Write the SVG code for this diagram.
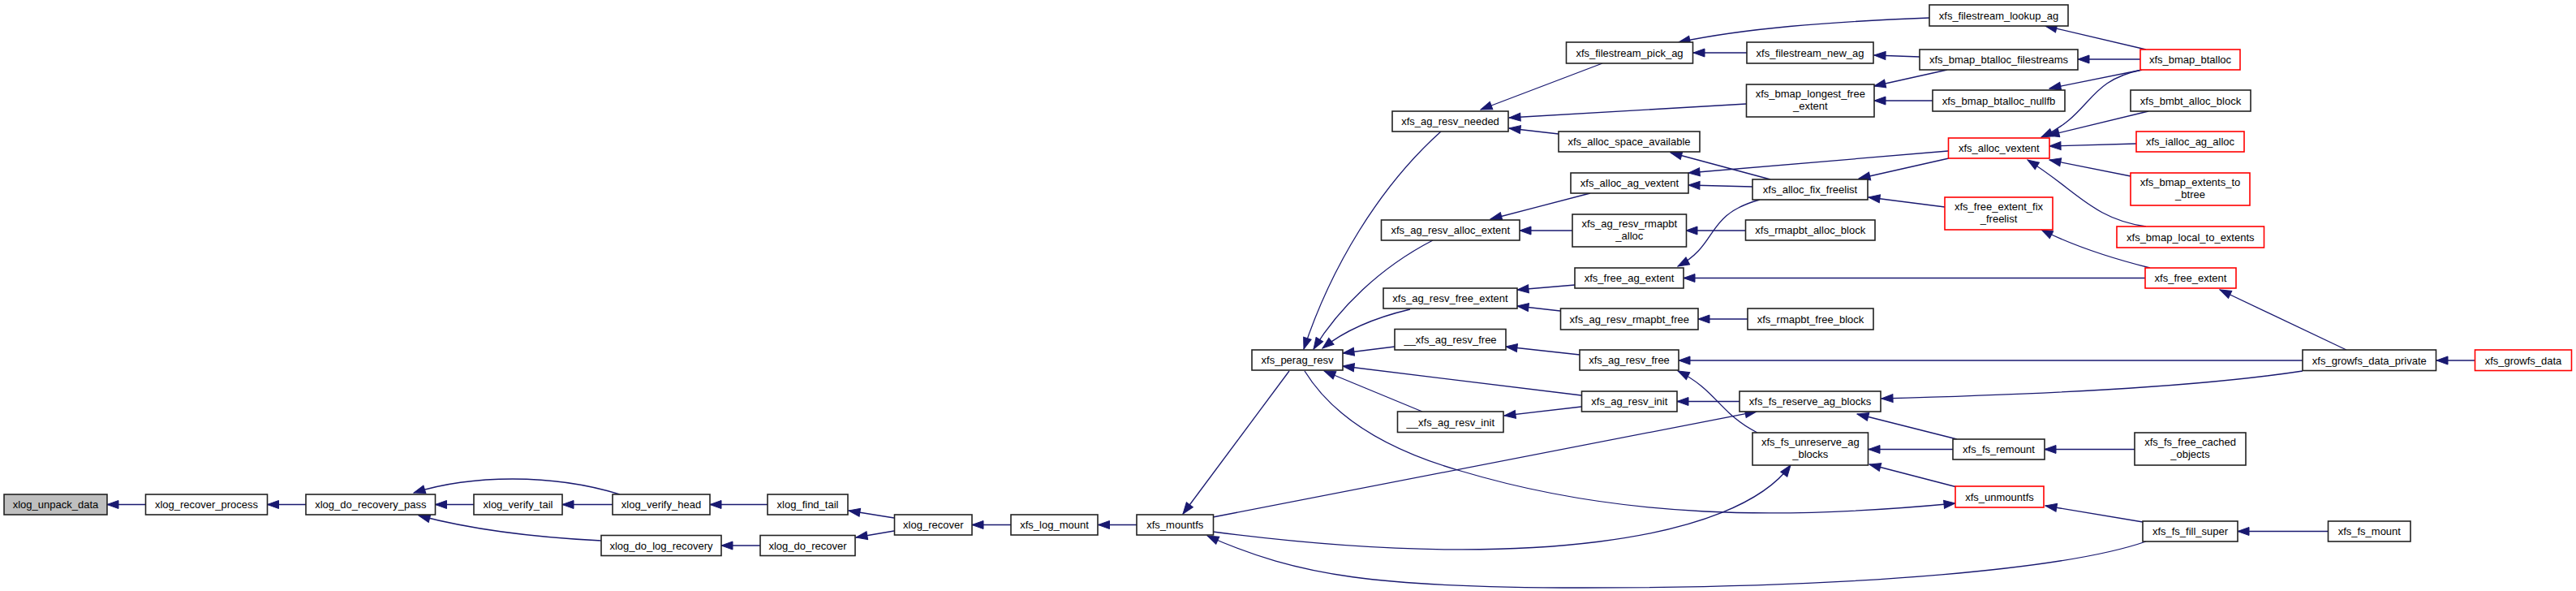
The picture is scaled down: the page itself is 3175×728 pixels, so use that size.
<svg xmlns="http://www.w3.org/2000/svg" width="3175" height="728" viewBox="0 0 3175 728">
<style>
.n rect{fill:#fff;stroke:#222;stroke-width:1.6}
.r rect{fill:#fff;stroke:#ff0000;stroke-width:1.6}
.g rect{fill:#bfbfbf;stroke:#222;stroke-width:1.6}
text{font-family:"Liberation Sans",Arial,Helvetica,sans-serif;font-size:13px;fill:#000;text-anchor:middle}
#edges path{fill:none;stroke:#191970;stroke-width:1.3;marker-start:url(#ah)}
</style>
<defs>
<marker id="ah" markerUnits="userSpaceOnUse" markerWidth="16" markerHeight="12" viewBox="-15 -6 16 12" refX="0" refY="0" orient="auto-start-reverse">
<path d="M0,0 L-14,-5 L-14,5 z" fill="#191970" stroke="#191970" stroke-width="1"/>
</marker>
</defs>
<rect width="3175" height="728" fill="#fff"/>
<g id="edges">
<path d="M132,621.5 L179.5,621.5"/>
<path d="M329.5,621.5 L377,621.5"/>
<path d="M536.5,621.5 L584,621.5"/>
<path d="M693,621.5 L755,621.5"/>
<path d="M510,607 C580,585 680,583 764,609"/>
<path d="M516,635 C580,652 660,662 741,666"/>
<path d="M875,621.5 L946,621.5"/>
<path d="M889,672 L937,672"/>
<path d="M1046,629 L1102,638"/>
<path d="M1055,662 L1102,654"/>
<path d="M1198,646.5 L1246,646.5"/>
<path d="M1353.5,646.5 L1401,646.5"/>
<path d="M1458,633 L1589,457"/>
<path d="M2165,507 L1495,637"/>
<path d="M2207,573 C2140,665 1880,705 1495,655"/>
<path d="M1488,660 C1600,710 1700,724 1950,724 C2300,724 2550,700 2645,667"/>
<path d="M2410,620 C2200,640 2000,640 1800,580 C1730,560 1650,525 1608,457"/>
<path d="M1607,430 C1640,330 1700,230 1776,162"/>
<path d="M1619,430 C1650,380 1700,330 1766,296"/>
<path d="M1630,429 C1660,405 1700,390 1738,381"/>
<path d="M1655,435 L1719,427"/>
<path d="M1655,451 L1949,487"/>
<path d="M1632,457 L1753,507"/>
<path d="M1856,427 L1947,437"/>
<path d="M1854,512 L1949,501"/>
<path d="M2067,494.5 L2144,494.5"/>
<path d="M2068,457 C2115,480 2120,510 2166,533"/>
<path d="M1870,377 L1923,383"/>
<path d="M2093,393 L2154,393"/>
<path d="M1870,357 L1941,351"/>
<path d="M1825,135 L1975,78"/>
<path d="M1860,145 L2152,128"/>
<path d="M1860,158 L1921,165"/>
<path d="M2087,65 L2153,65"/>
<path d="M2069,52 C2150,35 2250,27 2378,22"/>
<path d="M2310,68 L2366,70"/>
<path d="M2310,106 L2400,86"/>
<path d="M2310,124 L2382,124"/>
<path d="M2521,32 L2645,61"/>
<path d="M2561,73 L2638,73"/>
<path d="M2526,109 L2640,86"/>
<path d="M2516,169 C2580,140 2570,100 2640,86"/>
<path d="M2524,167 L2648,137"/>
<path d="M2526,180 L2633,177"/>
<path d="M2526,197 L2626,217"/>
<path d="M2499,197 C2560,235 2580,270 2645,279"/>
<path d="M2516,283 C2560,305 2610,320 2650,330"/>
<path d="M2081,228 L2160,230"/>
<path d="M2081,213 L2401,186"/>
<path d="M2291,220 L2402,195"/>
<path d="M2303,243 L2397,255"/>
<path d="M2059,188 L2182,221"/>
<path d="M2068,328 C2120,300 2100,265 2169,246"/>
<path d="M1837,270 L1960,238"/>
<path d="M1873,284 L1938,284"/>
<path d="M2078,284 L2151,284"/>
<path d="M2075,342.5 L2644,342.5"/>
<path d="M2289,510 L2412,541"/>
<path d="M2303,553.5 L2407,553.5"/>
<path d="M2304,572 L2412,600"/>
<path d="M2319,491 C2500,486 2700,478 2838,457"/>
<path d="M2069,444 L2838,444"/>
<path d="M2736,357 L2892,431"/>
<path d="M3003,444 L3050,444"/>
<path d="M2520,553.5 L2631,553.5"/>
<path d="M2521,623 L2641,643"/>
<path d="M2758,654.5 L2870,654.5"/>
</g>
<g id="n1" class="g"><rect x="5" y="609" width="127" height="25"/><text x="68.5" y="626">xlog_unpack_data</text></g>
<g id="n2" class="n"><rect x="179.5" y="609" width="150" height="25"/><text x="254.5" y="626">xlog_recover_process</text></g>
<g id="n3" class="n"><rect x="377" y="609" width="159.5" height="25"/><text x="456.8" y="626">xlog_do_recovery_pass</text></g>
<g id="n4" class="n"><rect x="584" y="609" width="109" height="25"/><text x="638.5" y="626">xlog_verify_tail</text></g>
<g id="n5" class="n"><rect x="755" y="609" width="120" height="25"/><text x="815" y="626">xlog_verify_head</text></g>
<g id="n6" class="n"><rect x="741" y="659.5" width="148" height="25"/><text x="815" y="676.5">xlog_do_log_recovery</text></g>
<g id="n7" class="n"><rect x="946" y="609" width="99" height="25"/><text x="995.5" y="626">xlog_find_tail</text></g>
<g id="n8" class="n"><rect x="937" y="659.5" width="117" height="25"/><text x="995.5" y="676.5">xlog_do_recover</text></g>
<g id="n9" class="n"><rect x="1102.5" y="634" width="95.5" height="25"/><text x="1150.3" y="651">xlog_recover</text></g>
<g id="n10" class="n"><rect x="1246" y="634" width="107" height="25"/><text x="1299.5" y="651">xfs_log_mount</text></g>
<g id="n11" class="n"><rect x="1401" y="634" width="94.5" height="25"/><text x="1448.3" y="651">xfs_mountfs</text></g>
<g id="n12" class="n"><rect x="1543" y="431" width="112" height="25"/><text x="1599" y="448">xfs_perag_resv</text></g>
<g id="n13" class="n"><rect x="1716" y="137" width="143" height="25"/><text x="1787.5" y="154">xfs_ag_resv_needed</text></g>
<g id="n14" class="n"><rect x="1930.5" y="52" width="156" height="26"/><text x="2008.5" y="69.5">xfs_filestream_pick_ag</text></g>
<g id="n15" class="n"><rect x="2153" y="52" width="156" height="26"/><text x="2231" y="69.5">xfs_filestream_new_ag</text></g>
<g id="n16" class="n"><rect x="2378" y="6" width="171" height="26"/><text x="2463.5" y="23.5">xfs_filestream_lookup_ag</text></g>
<g id="n17" class="n"><rect x="2366" y="61" width="195" height="25"/><text x="2463.5" y="78">xfs_bmap_btalloc_filestreams</text></g>
<g id="n18" class="n"><rect x="2152.5" y="104" width="157.5" height="40"/><text x="2231.3" y="120">xfs_bmap_longest_free</text><text x="2231.3" y="134.5">_extent</text></g>
<g id="n19" class="n"><rect x="2382" y="111" width="163" height="26"/><text x="2463.5" y="128.5">xfs_bmap_btalloc_nullfb</text></g>
<g id="n20" class="n"><rect x="1921" y="162" width="174" height="25"/><text x="2008" y="179">xfs_alloc_space_available</text></g>
<g id="n21" class="n"><rect x="1936" y="213" width="145" height="25"/><text x="2008.5" y="230">xfs_alloc_ag_vextent</text></g>
<g id="n22" class="n"><rect x="2160" y="221" width="142" height="25"/><text x="2231" y="238">xfs_alloc_fix_freelist</text></g>
<g id="n23" class="n"><rect x="1702.5" y="271" width="170.5" height="25"/><text x="1787.8" y="288">xfs_ag_resv_alloc_extent</text></g>
<g id="n24" class="n"><rect x="1938" y="264" width="140.5" height="40"/><text x="2008.3" y="280">xfs_ag_resv_rmapbt</text><text x="2008.3" y="294.5">_alloc</text></g>
<g id="n25" class="n"><rect x="2151.5" y="271" width="159.5" height="25"/><text x="2231.3" y="288">xfs_rmapbt_alloc_block</text></g>
<g id="n26" class="n"><rect x="1941" y="330" width="134" height="25"/><text x="2008" y="347">xfs_free_ag_extent</text></g>
<g id="n27" class="n"><rect x="1705" y="355" width="165" height="25"/><text x="1787.5" y="372">xfs_ag_resv_free_extent</text></g>
<g id="n28" class="r"><rect x="2397" y="243" width="133" height="40"/><text x="2463.5" y="259">xfs_free_extent_fix</text><text x="2463.5" y="273.5">_freelist</text></g>
<g id="n29" class="r"><rect x="2401.5" y="170" width="124.5" height="25"/><text x="2463.8" y="187">xfs_alloc_vextent</text></g>
<g id="n30" class="r"><rect x="2638" y="61" width="123" height="25"/><text x="2699.5" y="78">xfs_bmap_btalloc</text></g>
<g id="n31" class="n"><rect x="2626" y="111" width="148" height="26"/><text x="2700" y="128.5">xfs_bmbt_alloc_block</text></g>
<g id="n32" class="r"><rect x="2633" y="162" width="133" height="25"/><text x="2699.5" y="179">xfs_ialloc_ag_alloc</text></g>
<g id="n33" class="r"><rect x="2626" y="213" width="147" height="40"/><text x="2699.5" y="229">xfs_bmap_extents_to</text><text x="2699.5" y="243.5">_btree</text></g>
<g id="n34" class="r"><rect x="2609" y="279" width="181.5" height="26"/><text x="2699.8" y="296.5">xfs_bmap_local_to_extents</text></g>
<g id="n35" class="r"><rect x="2644" y="330" width="112" height="25"/><text x="2700" y="347">xfs_free_extent</text></g>
<g id="n36" class="n"><rect x="1923.5" y="380" width="169.5" height="26"/><text x="2008.3" y="397.5">xfs_ag_resv_rmapbt_free</text></g>
<g id="n37" class="n"><rect x="2154" y="380" width="155" height="26"/><text x="2231.5" y="397.5">xfs_rmapbt_free_block</text></g>
<g id="n38" class="n"><rect x="1719" y="405.5" width="137" height="25.5"/><text x="1787.5" y="423">__xfs_ag_resv_free</text></g>
<g id="n39" class="n"><rect x="1947" y="431" width="122" height="25"/><text x="2008" y="448">xfs_ag_resv_free</text></g>
<g id="n40" class="n"><rect x="1949.5" y="482" width="117.5" height="25"/><text x="2008.3" y="499">xfs_ag_resv_init</text></g>
<g id="n41" class="n"><rect x="1722.5" y="507" width="130.5" height="25.5"/><text x="1787.8" y="524.5">__xfs_ag_resv_init</text></g>
<g id="n42" class="n"><rect x="2144" y="482" width="174" height="25"/><text x="2231" y="499">xfs_fs_reserve_ag_blocks</text></g>
<g id="n43" class="n"><rect x="2160" y="533" width="142.5" height="40"/><text x="2231.3" y="549">xfs_fs_unreserve_ag</text><text x="2231.3" y="563.5">_blocks</text></g>
<g id="n44" class="n"><rect x="2838" y="431" width="164.5" height="25.5"/><text x="2920.3" y="448.5">xfs_growfs_data_private</text></g>
<g id="n45" class="r"><rect x="3050.5" y="431" width="119" height="25.5"/><text x="3110" y="448.5">xfs_growfs_data</text></g>
<g id="n46" class="n"><rect x="2407" y="541" width="113" height="25"/><text x="2463.5" y="558">xfs_fs_remount</text></g>
<g id="n47" class="n"><rect x="2631" y="533" width="137" height="40"/><text x="2699.5" y="549">xfs_fs_free_cached</text><text x="2699.5" y="563.5">_objects</text></g>
<g id="n48" class="r"><rect x="2410" y="599" width="109" height="26"/><text x="2464.5" y="616.5">xfs_unmountfs</text></g>
<g id="n49" class="n"><rect x="2641" y="642" width="117" height="25"/><text x="2699.5" y="659">xfs_fs_fill_super</text></g>
<g id="n50" class="n"><rect x="2869.5" y="642" width="101.5" height="25"/><text x="2920.3" y="659">xfs_fs_mount</text></g>
</svg>
